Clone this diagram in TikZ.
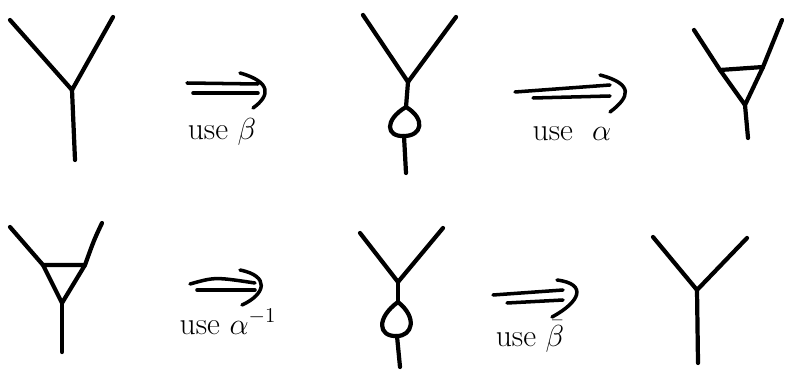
\documentclass[tikz,border=0pt]{standalone}
\usepackage{amsmath}
\usetikzlibrary{positioning, calc}

\begin{document}
\begin{tikzpicture}[
  x=0.02cm, y=-0.02cm,
  font=\fontsize{18}{21}\selectfont,
  edge/.style={line width=2.4pt, line cap=round, line join=round},
  arr/.style={line width=2pt, line cap=round},
  lbl/.style={inner sep=0pt, anchor=base},
]
\useasboundingbox (0,0) rectangle (793,381);

%% Top row, first graph: plain vertex
\coordinate (ya) at (10,20);
\coordinate (yb) at (113,17);
\coordinate (yj) at (72,90);
\coordinate (yc) at (75,160);
\draw[edge] (ya) -- (yj) -- (yb);
\draw[edge] (yj) -- (yc);

%% use beta
\coordinate (p1a) at (187,83);
\coordinate (p1b) at (258,84);
\coordinate (p1c) at (193,93);
\coordinate (p1d) at (258,93);
\coordinate (h1a) at (240,73);
\coordinate (h1b) at (253,108);
\draw[arr] (p1a) -- (p1b);
\draw[arr] (p1c) -- (p1d);
\draw[arr] (h1a) .. controls (272,82) and (270,96) .. (h1b);
\node[lbl] (l1) at (222,140) {use $\beta$};

%% Top row, second graph: vertex with bubble
\coordinate (ba) at (363,15);
\coordinate (bb) at (456,17);
\coordinate (bj) at (408,82);
\coordinate (bt) at (406,107);
\coordinate (bo) at (404,136);
\coordinate (bc) at (406,173);
\draw[edge] (ba) -- (bj) -- (bb);
\draw[edge] (bj) -- (bt);
\draw[edge] (bt) .. controls (384,120) and (386,137) .. (bo)
  .. controls (422,136) and (426,119) .. (bt);
\draw[edge] (bo) -- (bc);

%% use alpha
\coordinate (p2a) at (515,92);
\coordinate (p2b) at (610,85);
\coordinate (p2c) at (533,98);
\coordinate (p2d) at (610,96);
\coordinate (h2a) at (600,75);
\coordinate (h2b) at (610,112);
\draw[arr] (p2a) -- (p2b);
\draw[arr] (p2c) -- (p2d);
\draw[arr] (h2a) .. controls (634,84) and (630,97) .. (h2b);
\node[lbl] (l2) at (572,141) {use\ \ $\alpha$};

%% Top row, third graph: triangle
\coordinate (ta) at (694,30);
\coordinate (tb) at (782,20);
\coordinate (tl) at (720,70);
\coordinate (tr) at (763,67);
\coordinate (tm) at (745,105);
\coordinate (tc) at (748,138);
\draw[edge] (ta) -- (tl);
\draw[edge] (tb) -- (tr);
\draw[edge] (tl) -- (tr) -- (tm) -- cycle;
\draw[edge] (tm) -- (tc);

%% Bottom row, first graph: triangle
\coordinate (ua) at (10,227);
\coordinate (ub) at (102,223);
\coordinate (ul) at (43,265);
\coordinate (ur) at (85,265);
\coordinate (um) at (62,303);
\coordinate (uc) at (62,352);
\draw[edge] (ua) -- (ul);
\draw[edge] (ub) .. controls (94,240) .. (ur);
\draw[edge] (ul) -- (ur) -- (um) -- cycle;
\draw[edge] (um) -- (uc);

%% use alpha inverse
\coordinate (p3a) at (190,284);
\coordinate (p3b) at (255,283);
\coordinate (p3c) at (197,290);
\coordinate (p3d) at (255,290);
\coordinate (h3a) at (240,270);
\coordinate (h3b) at (242,305);
\draw[arr] (p3a) .. controls (215,277) .. (p3b);
\draw[arr] (p3c) -- (p3d);
\draw[arr] (h3a) .. controls (270,276) and (266,294) .. (h3b);
\node[lbl] (l3) at (228,334) {use $\alpha^{-1}$};

%% Bottom row, second graph: vertex with bubble
\coordinate (va) at (360,233);
\coordinate (vb) at (443,228);
\coordinate (vj) at (398,282);
\coordinate (vt) at (398,302);
\coordinate (vo) at (397,336);
\coordinate (vc) at (400,367);
\draw[edge] (va) -- (vj) -- (vb);
\draw[edge] (vj) -- (vt);
\draw[edge] (vt) .. controls (376,318) and (378,337) .. (vo)
  .. controls (412,336) and (418,318) .. (vt);
\draw[edge] (vo) -- (vc);

%% use beta bar
\coordinate (p4a) at (493,295);
\coordinate (p4b) at (563,290);
\coordinate (p4c) at (507,303);
\coordinate (p4d) at (563,300);
\coordinate (h4a) at (557,280);
\coordinate (h4b) at (552,317);
\draw[arr] (p4a) -- (p4b);
\draw[arr] (p4c) -- (p4d);
\draw[arr] (h4a) .. controls (588,284) and (580,302) .. (h4b);
\node[lbl] (l4) at (530,346) {use $\bar{\beta}$};

%% Bottom row, third graph: plain vertex
\coordinate (wa) at (653,237);
\coordinate (wb) at (747,238);
\coordinate (wj) at (697,290);
\coordinate (wc) at (698,363);
\draw[edge] (wa) -- (wj) -- (wb);
\draw[edge] (wj) -- (wc);

\end{tikzpicture}
\end{document}
